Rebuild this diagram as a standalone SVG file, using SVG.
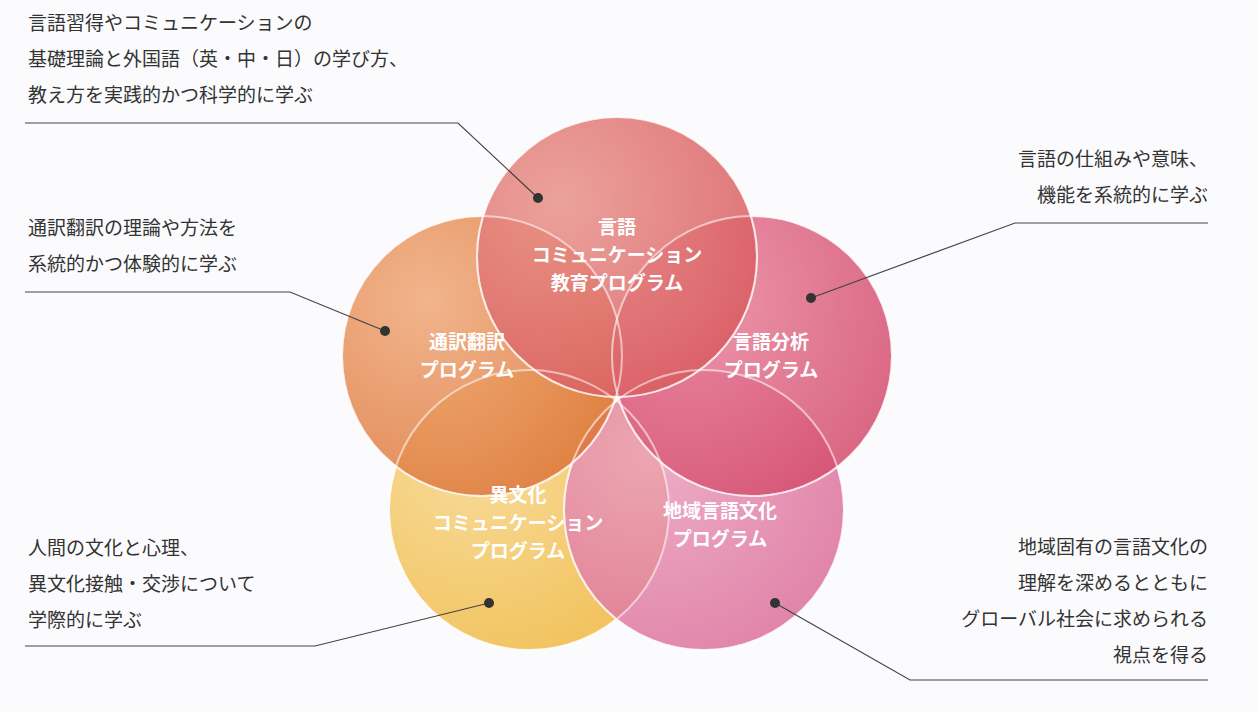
<svg xmlns="http://www.w3.org/2000/svg" width="1258" height="712" viewBox="0 0 1258 712">
<defs>
<style>
.t{font-family:"Noto Sans CJK JP","Noto Sans",sans-serif;font-size:19px;fill:#333}
.c{font-family:"Noto Sans CJK JP","Noto Sans",sans-serif;font-size:19px;fill:#fff;text-anchor:middle;font-weight:bold}
.ln{stroke:#444;stroke-width:1.2;fill:none}
.cir{stroke:#fff;stroke-opacity:0.6;stroke-width:2;fill-opacity:0.85}
</style>
<radialGradient id="gT" cx="0.3" cy="0.3" r="0.8"><stop offset="0" stop-color="#e9928a"/><stop offset="1" stop-color="#d85a5e"/></radialGradient>
<radialGradient id="gL" cx="0.3" cy="0.3" r="0.8"><stop offset="0" stop-color="#f0a878"/><stop offset="1" stop-color="#dc7438"/></radialGradient>
<radialGradient id="gR" cx="0.3" cy="0.3" r="0.8"><stop offset="0" stop-color="#e9859c"/><stop offset="1" stop-color="#d44c6e"/></radialGradient>
<radialGradient id="gBL" cx="0.3" cy="0.3" r="0.8"><stop offset="0" stop-color="#f7d68a"/><stop offset="1" stop-color="#f0b840"/></radialGradient>
<radialGradient id="gBR" cx="0.3" cy="0.3" r="0.8"><stop offset="0" stop-color="#eba0bd"/><stop offset="1" stop-color="#dc6f9a"/></radialGradient>
</defs>
<rect width="1258" height="712" fill="#fbfbfd"/>
<g id="n-bl"><circle class="cir" cx="529" cy="510" r="140" fill="url(#gBL)"/></g>
<g id="n-br"><circle class="cir" cx="704" cy="510" r="140" fill="url(#gBR)"/></g>
<g id="n-l"><circle class="cir" cx="482" cy="356" r="140" fill="url(#gL)"/></g>
<g id="n-r"><circle class="cir" cx="752" cy="356" r="140" fill="url(#gR)"/></g>
<g id="n-t"><circle class="cir" cx="617" cy="257" r="140" fill="url(#gT)"/></g>
<g id="outlines" fill="none" stroke="#fff" stroke-opacity="0.55" stroke-width="2">
<circle cx="529" cy="510" r="140"/><circle cx="704" cy="510" r="140"/><circle cx="482" cy="356" r="140"/><circle cx="752" cy="356" r="140"/><circle cx="617" cy="257" r="140"/>
</g>
<g id="labels">
<text class="c" x="617" y="234">言語</text>
<text class="c" x="617" y="262">コミュニケーション</text>
<text class="c" x="617" y="290">教育プログラム</text>
<text class="c" x="467" y="349">通訳翻訳</text>
<text class="c" x="467" y="377">プログラム</text>
<text class="c" x="771" y="349">言語分析</text>
<text class="c" x="771" y="377">プログラム</text>
<text class="c" x="518" y="502">異文化</text>
<text class="c" x="518" y="530">コミュニケーション</text>
<text class="c" x="518" y="558">プログラム</text>
<text class="c" x="720" y="518">地域言語文化</text>
<text class="c" x="720" y="546">プログラム</text>
</g>
<g id="connectors">
<polyline class="ln" points="25,123 458,123 538,198"/><circle cx="538" cy="198" r="5" fill="#333"/>
<polyline class="ln" points="25,292 290,292 385,331"/><circle cx="385" cy="331" r="5" fill="#333"/>
<polyline class="ln" points="1208,223 1015,223 811,298"/><circle cx="811" cy="298" r="5" fill="#333"/>
<polyline class="ln" points="25,646 315,646 489,603"/><circle cx="489" cy="603" r="5" fill="#333"/>
<polyline class="ln" points="1208,680 910,680 775,603"/><circle cx="775" cy="603" r="5" fill="#333"/>
</g>
<g id="texts">
<text class="t" x="28" y="30">言語習得やコミュニケーションの</text>
<text class="t" x="28" y="66">基礎理論と外国語（英・中・日）の学び方、</text>
<text class="t" x="28" y="102">教え方を実践的かつ科学的に学ぶ</text>
<text class="t" x="28" y="235">通訳翻訳の理論や方法を</text>
<text class="t" x="28" y="271">系統的かつ体験的に学ぶ</text>
<text class="t" x="1208" y="166" text-anchor="end">言語の仕組みや意味、</text>
<text class="t" x="1208" y="202" text-anchor="end">機能を系統的に学ぶ</text>
<text class="t" x="28" y="555">人間の文化と心理、</text>
<text class="t" x="28" y="591">異文化接触・交渉について</text>
<text class="t" x="28" y="627">学際的に学ぶ</text>
<text class="t" x="1208" y="554" text-anchor="end">地域固有の言語文化の</text>
<text class="t" x="1208" y="590" text-anchor="end">理解を深めるとともに</text>
<text class="t" x="1208" y="626" text-anchor="end">グローバル社会に求められる</text>
<text class="t" x="1208" y="662" text-anchor="end">視点を得る</text>
</g>
</svg>
